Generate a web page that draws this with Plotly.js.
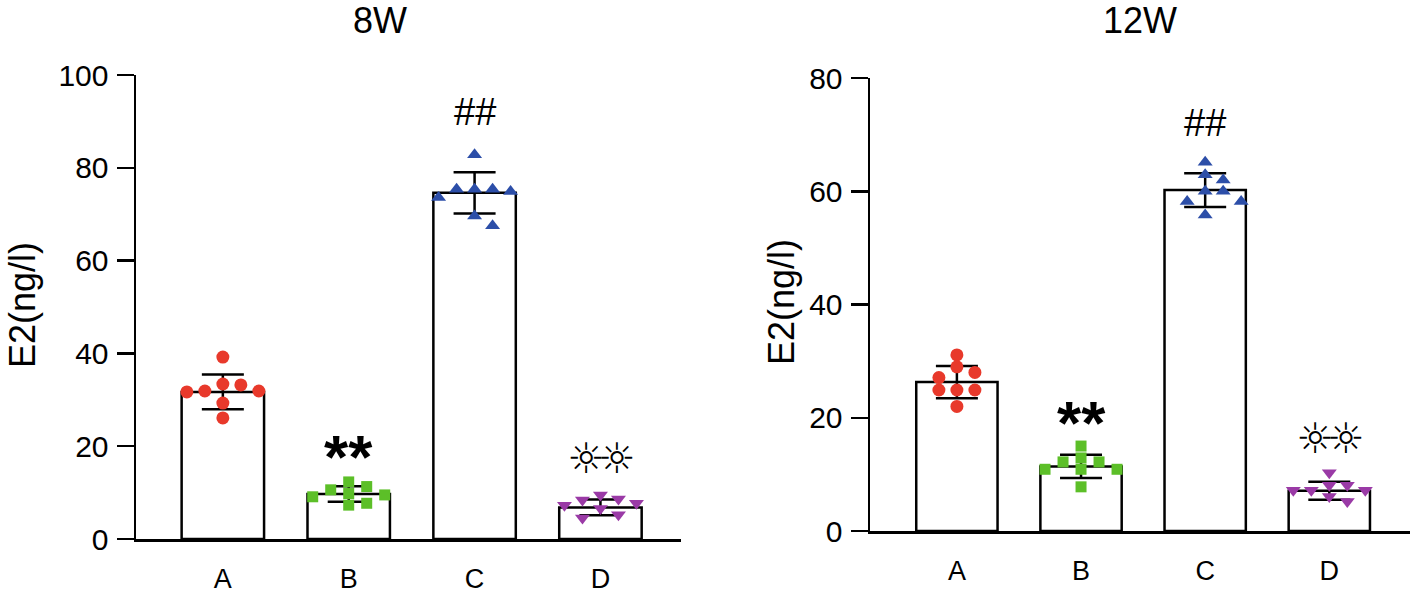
<!DOCTYPE html>
<html>
<head>
<meta charset="utf-8">
<script src="https://cdn.plot.ly/plotly-3.0.1.min.js"></script>
<style>
html,body{margin:0;padding:0;background:#fff;}
#chart{width:1416px;height:602px;}
</style>
</head>
<body>
<div id="chart"></div>
<script>
// ---------- data ----------
const groups = ["A", "B", "C", "D"];
const panelTitles = ["8W", "12W"];
const yTitle = "E2(ng/l)";

// 8W
const w8_A = [39.2, 33.2, 33.4, 31.9, 31.7, 31.9, 29.3, 26.1];
const w8_B = [11.3, 9.1, 7.3, 10.6, 12.3, 9.8, 7.7, 9.5];
const w8_C = [82.8, 74.9, 75.4, 75.4, 75.4, 73.6, 69.6, 67.5];
const w8_D = [8.4, 8.6, 6.6, 4.5, 7.7, 5.2, 9.5, 7.3];
const w8_mean = [31.7, 9.7, 74.6, 6.8];
const w8_sd = [3.75, 1.65, 4.45, 1.7];

// 12W
const w12_A = [31.1, 29.0, 28.0, 27.1, 24.9, 24.9, 24.9, 22.0];
const w12_B = [15.0, 12.9, 12.2, 10.9, 10.9, 10.9, 12.2, 7.8];
const w12_C = [65.1, 62.9, 62.0, 60.0, 60.0, 58.2, 58.2, 55.8];
const w12_D = [10.3, 8.1, 7.2, 7.2, 8.1, 7.2, 5.2, 6.1];
const w12_mean = [26.3, 11.4, 60.2, 7.1];
const w12_sd = [2.85, 2.05, 3.0, 1.6];

const sigLabels = ["", "**", "##", "☼☼"];
const yTicks8 = [0, 20, 40, 60, 80, 100];
const yTicks12 = [0, 20, 40, 60, 80];

// ---------- styling / layout ----------
const W = 1416, H = 602;
const FONT = "Liberation Sans, Arial, sans-serif";
const colors = ["#e8392b", "#5cbf28", "#2c4ea8", "#9a3aa6"];
const symbols = ["circle", "square", "triangle-up", "triangle-down"];
const msizes = [13, 11, 13, 13];

const panels = [
  {pts: [w8_A, w8_B, w8_C, w8_D], mean: w8_mean, sd: w8_sd, xr: [-0.69, 3.64], yr: [0, 100],
   xd: [136 / W, 681 / W], yd: [1 - 539 / H, 1 - 75 / H], ticks: yTicks8,
   title: panelTitles[0], titleX: 380, ytX: 22, ytY: 305, sigShift: [0, 42, 60, 41]},
  {pts: [w12_A, w12_B, w12_C, w12_D], mean: w12_mean, sd: w12_sd, xr: [-0.70, 3.65], yr: [0, 80],
   xd: [870 / W, 1410 / W], yd: [1 - 531 / H, 1 - 78 / H], ticks: yTicks12,
   title: panelTitles[1], titleX: 1140, ytX: 781, ytY: 302, sigShift: [0, 44, 50, 43]}
];

// greedy scatter layout in pixel space (GraphPad-like spread)
function swarm(vals, pxPerY, pxPerX, step, minDist) {
  const idx = vals.map((v, i) => i).sort((a, b) => vals[b] - vals[a]);
  const placed = [];
  const off = new Array(vals.length).fill(0);
  const cands = [0, step, -step, 2 * step, -2 * step];
  idx.forEach(i => {
    const y = vals[i] * pxPerY;
    let best = null, bestD = -1;
    for (const c of cands) {
      const d = placed.length ? Math.min(...placed.map(p => Math.hypot(p.x - c, p.y - y))) : 1e9;
      if (d >= minDist) { best = c; break; }
      if (d > bestD) { bestD = d; best = c; }
    }
    off[i] = best / pxPerX;
    placed.push({x: best, y: y});
  });
  return off;
}

const traces = [];
const layout = {
  width: W, height: H, margin: {l: 0, r: 0, t: 0, b: 0},
  paper_bgcolor: "#fff", plot_bgcolor: "#fff", showlegend: false,
  font: {family: FONT, color: "#000", size: 30},
  annotations: []
};

panels.forEach((p, pi) => {
  const xa = pi === 0 ? "x" : "x2", ya = pi === 0 ? "y" : "y2";
  const xkey = pi === 0 ? "xaxis" : "xaxis2", ykey = pi === 0 ? "yaxis" : "yaxis2";
  const pxPerX = (p.xd[1] - p.xd[0]) * W / (p.xr[1] - p.xr[0]);
  const pxPerY = (p.yd[1] - p.yd[0]) * H / (p.yr[1] - p.yr[0]);

  traces.push({
    type: "bar", x: [0, 1, 2, 3], y: p.mean, xaxis: xa, yaxis: ya, width: 0.655,
    marker: {color: "#fff", line: {color: "#000", width: 2.5}},
    error_y: {type: "data", array: p.sd, visible: true, color: "#000", thickness: 2.5, width: 21},
    hoverinfo: "skip"
  });
  p.pts.forEach((vals, gi) => {
    const off = swarm(vals, pxPerY, pxPerX, 18, 11);
    traces.push({
      type: "scatter", mode: "markers", xaxis: xa, yaxis: ya,
      x: vals.map((v, i) => gi + off[i]), y: vals,
      marker: {color: colors[gi], symbol: symbols[gi], size: msizes[gi], line: {width: 0}},
      cliponaxis: false
    });
    if (sigLabels[gi]) {
      const lab = sigLabels[gi];
      let font = {family: FONT, size: 38, color: "#000"};
      let shift = p.sigShift[gi];
      let text = lab;
      if (lab === "**") { font = {family: "Liberation Sans, Arial", size: 62, color: "#000", weight: "bold"}; shift -= 12; }
      if (lab === "☼☼") {
        font = {family: "DejaVu Sans", size: 42, color: "#000", weight: "bold"};
        text = '<span style="letter-spacing:-7px">' + lab + '</span>';
      }
      layout.annotations.push({
        xref: xa, yref: ya, x: gi, y: p.mean[gi] + p.sd[gi], text: text, showarrow: false,
        yanchor: "middle", xanchor: "center", yshift: shift, font: font
      });
    }
  });

  layout[xkey] = {
    domain: p.xd, range: p.xr, anchor: ya, tickmode: "array", tickvals: [0, 1, 2, 3], ticktext: groups,
    ticks: "", showline: true, linecolor: "#000", linewidth: 2.5, showgrid: false, zeroline: false,
    tickfont: {family: FONT, size: 27, color: "#000"}, ticklabelstandoff: 14, fixedrange: true
  };
  layout[ykey] = {
    domain: p.yd, range: p.yr, anchor: xa, tickmode: "array", tickvals: p.ticks,
    ticks: "outside", ticklen: 17, tickwidth: 2.5, tickcolor: "#000",
    showline: true, linecolor: "#000", linewidth: 2.5, showgrid: false, zeroline: false,
    tickfont: {family: FONT, size: 30, color: "#000"}, ticklabelstandoff: 2, fixedrange: true
  };
  layout.annotations.push({
    xref: "paper", yref: "paper", x: p.titleX / W, y: 1 - 21 / H, text: p.title, showarrow: false,
    xanchor: "center", yanchor: "middle", font: {family: FONT, size: 36, color: "#000"}
  });
  layout.annotations.push({
    xref: "paper", yref: "paper", x: p.ytX / W, y: 1 - p.ytY / H, text: yTitle, showarrow: false,
    textangle: -90, xanchor: "center", yanchor: "middle", font: {family: FONT, size: 36, color: "#000"}
  });
});

Plotly.newPlot("chart", traces, layout, {displayModeBar: false, staticPlot: true});
</script>
</body>
</html>
